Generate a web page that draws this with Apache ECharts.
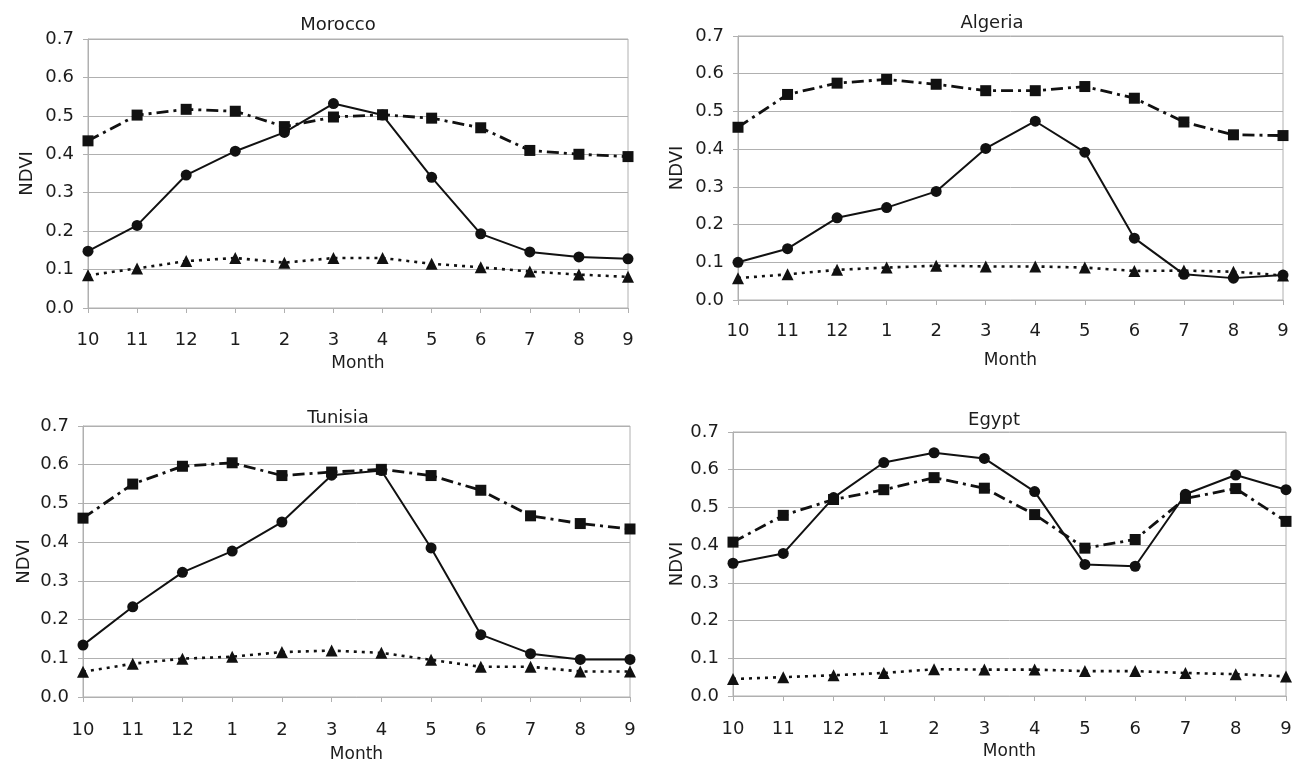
<!DOCTYPE html>
<html>
<head>
<meta charset="utf-8">
<script src="https://cdn.jsdelivr.net/npm/echarts@6/dist/echarts.min.js"></script>
<style>
html,body{margin:0;padding:0;background:#fff;}
#chart{width:1300px;height:764px;}
</style>
</head>
<body>
<div id="chart"></div>
<script>
// ---- data ----
var months = ['10','11','12','1','2','3','4','5','6','7','8','9'];
var yTicks = [0, 0.1, 0.2, 0.3, 0.4, 0.5, 0.6, 0.7];
var panelTitles = ['Morocco', 'Algeria', 'Tunisia', 'Egypt'];

var moroccoCircle   = [0.148,0.215,0.346,0.408,0.457,0.532,0.502,0.340,0.193,0.146,0.133,0.128];
var moroccoSquare   = [0.435,0.502,0.517,0.512,0.472,0.497,0.503,0.494,0.469,0.410,0.400,0.394];
var moroccoTriangle = [0.085,0.103,0.122,0.130,0.118,0.130,0.130,0.115,0.106,0.095,0.087,0.081];

var algeriaCircle   = [0.100,0.136,0.218,0.245,0.288,0.402,0.474,0.392,0.164,0.068,0.058,0.066];
var algeriaSquare   = [0.458,0.545,0.575,0.585,0.572,0.555,0.555,0.566,0.535,0.472,0.438,0.436];
var algeriaTriangle = [0.058,0.068,0.080,0.086,0.091,0.089,0.089,0.086,0.077,0.078,0.075,0.065];

var tunisiaCircle   = [0.134,0.233,0.322,0.377,0.452,0.573,0.585,0.385,0.161,0.112,0.097,0.097];
var tunisiaSquare   = [0.462,0.550,0.596,0.605,0.572,0.581,0.588,0.572,0.534,0.468,0.448,0.434];
var tunisiaTriangle = [0.065,0.086,0.099,0.104,0.116,0.120,0.114,0.096,0.078,0.078,0.066,0.066];

var egyptCircle     = [0.352,0.378,0.526,0.619,0.645,0.630,0.542,0.349,0.344,0.535,0.586,0.547];
var egyptSquare     = [0.408,0.479,0.521,0.547,0.579,0.551,0.481,0.392,0.415,0.524,0.550,0.463];
var egyptTriangle   = [0.045,0.050,0.055,0.061,0.071,0.070,0.070,0.066,0.066,0.061,0.058,0.052];

var panelData = [
  [moroccoCircle, moroccoSquare, moroccoTriangle],
  [algeriaCircle, algeriaSquare, algeriaTriangle],
  [tunisiaCircle, tunisiaSquare, tunisiaTriangle],
  [egyptCircle, egyptSquare, egyptTriangle]
];

// ---- layout ----
var FONT = 'DejaVu Sans';
var TXT = '#1c1c1c';
var GRIDC = '#b0b0b0';
var layout = [
  {grid:{left:88, top:39, right:672, bottom:456}, title:{left:333, top:11}, xName:47, xMargin:23, yName:52},
  {grid:{left:738, top:36, right:17, bottom:464}, title:{left:987, top:9}, xName:52, xMargin:22, yName:52},
  {grid:{left:83, top:426, right:670, bottom:66}, title:{left:333, top:404}, xName:49, xMargin:24, yName:50},
  {grid:{left:733, top:432, right:14, bottom:68}, title:{left:989, top:406}, xName:47, xMargin:24, yName:46}
];

var grids = [], xAxes = [], yAxes = [], titles = [], series = [];
layout.forEach(function(L, i){
  var g = Object.assign({show:true, borderColor:GRIDC, borderWidth:1, backgroundColor:'#fff'}, L.grid);
  grids.push(g);
  titles.push({text:panelTitles[i], left:L.title.left, top:L.title.top, textAlign:'center',
    textStyle:{fontFamily:FONT, fontSize:18, fontWeight:'normal', color:TXT}});
  xAxes.push({
    type:'category', gridIndex:i, data:months, boundaryGap:false,
    name:'Month', nameLocation:'middle', nameGap:L.xName,
    nameTextStyle:{fontFamily:FONT, fontSize:17, color:TXT},
    axisLine:{show:true, lineStyle:{color:GRIDC, width:1}},
    axisTick:{show:true, length:5, lineStyle:{color:GRIDC}},
    axisLabel:{margin:L.xMargin, fontFamily:FONT, fontSize:18, color:TXT},
    splitLine:{show:false}
  });
  yAxes.push({
    type:'value', gridIndex:i, min:yTicks[0], max:yTicks[yTicks.length-1], interval:0.1,
    name:'NDVI', nameLocation:'middle', nameGap:L.yName, nameRotate:90,
    nameTextStyle:{fontFamily:FONT, fontSize:18, color:TXT},
    axisLine:{show:true, lineStyle:{color:GRIDC, width:1}},
    axisTick:{show:true, length:5, lineStyle:{color:GRIDC}},
    axisLabel:{margin:14, fontFamily:FONT, fontSize:18, color:TXT,
      formatter:function(v){return v.toFixed(1);}},
    splitLine:{show:true, lineStyle:{color:GRIDC, width:1}}
  });
  var d = panelData[i];
  series.push({
    name:'circle', type:'line', xAxisIndex:i, yAxisIndex:i, data:d[0],
    symbol:'circle', symbolSize:11, z:3,
    lineStyle:{color:'#111', width:2, type:'solid'},
    itemStyle:{color:'#111'}
  });
  series.push({
    name:'square', type:'line', xAxisIndex:i, yAxisIndex:i, data:d[1],
    symbol:'rect', symbolSize:11, z:2,
    lineStyle:{color:'#111', width:2.8, type:[12,5,3,5]},
    itemStyle:{color:'#111'}
  });
  series.push({
    name:'triangle', type:'line', xAxisIndex:i, yAxisIndex:i, data:d[2],
    symbol:'triangle', symbolSize:12, z:2,
    lineStyle:{color:'#111', width:2.6, type:[3,5]},
    itemStyle:{color:'#111'}
  });
});

var chart = echarts.init(document.getElementById('chart'), null, {renderer:'canvas'});
chart.setOption({
  backgroundColor:'#fff',
  animation:false,
  title:titles,
  grid:grids,
  xAxis:xAxes,
  yAxis:yAxes,
  series:series
});
</script>
</body>
</html>
